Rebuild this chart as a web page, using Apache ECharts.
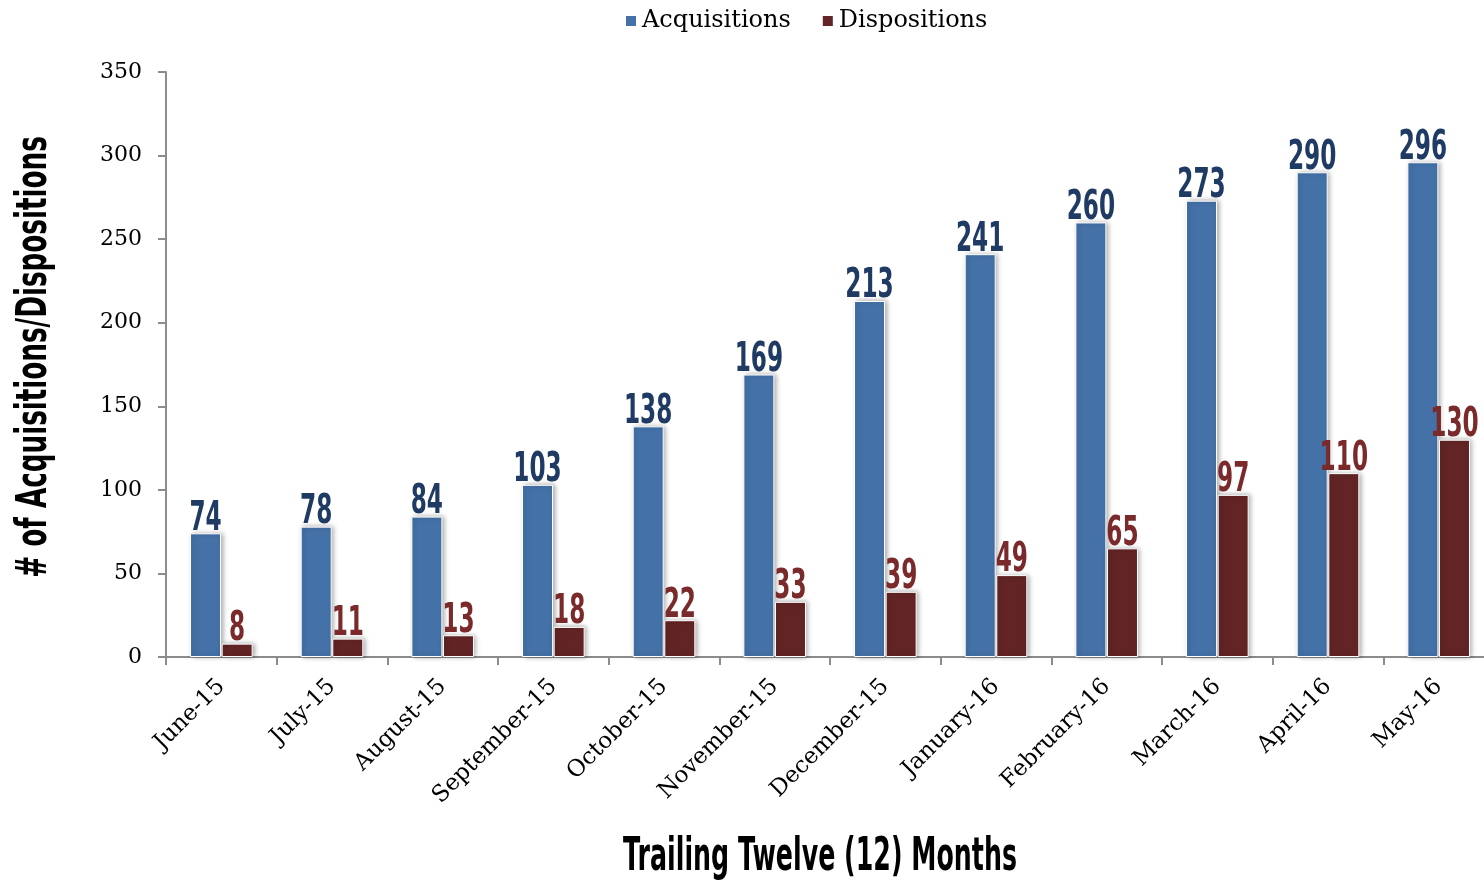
<!DOCTYPE html>
<html><head><meta charset="utf-8">
<script src="https://cdn.jsdelivr.net/npm/echarts@6/dist/echarts.min.js"></script>
<style>html,body{margin:0;padding:0;background:#fff}#c{width:1484px;height:881px}</style>
</head><body><div id="c"></div>
<script>
const categories = ['June-15','July-15','August-15','September-15','October-15','November-15','December-15','January-16','February-16','March-16','April-16','May-16'];
const acquisitions = [74,78,84,103,138,169,213,241,260,273,290,296];
const dispositions = [8,11,13,18,22,33,39,49,65,97,110,130];
const yTicks = [0,50,100,150,200,250,300,350];

const BAR_W = 31;
const BAR_GAP = 0.02;
const serif = "'DejaVu Serif','Liberation Serif',serif";

function labelSeries(values, sign, color){
  return {
    type:'custom', silent:true, clip:false, z:5,
    data: values.map((v,i)=>[i,v]),
    encode:{x:0,y:1},
    renderItem:(params, api)=>{
      const c = api.coord([api.value(0), api.value(1)]);
      const off = sign * BAR_W * (1 + BAR_GAP) / 2;
      return {type:'text', x:c[0]+off, y:c[1]+6, scaleX:0.58,
        style:{text:String(api.value(1)), fill:color, font:"bold 40px 'DejaVu Sans'",
          textAlign:'center', textVerticalAlign:'bottom', verticalAlign:'bottom'}};
    }
  };
}

const chart = echarts.init(document.getElementById('c'));
chart.setOption({
  animation:false,
  legend:{top:4,left:619,itemWidth:12,itemHeight:12,itemGap:30,icon:'rect',
    textStyle:{fontFamily:serif,fontSize:24,color:'#000'},
    data:['Acquisitions','Dispositions']},
  grid:{left:166,right:-10,top:72,bottom:224,containLabel:false,outerBoundsMode:'none'},
  graphic:[
    {type:'text', x:820, y:858, scaleX:0.55, silent:true,
      style:{text:'Trailing Twelve (12) Months', font:"bold 46px 'DejaVu Sans'", fill:'#000',
        textAlign:'center', textVerticalAlign:'middle', verticalAlign:'middle'}},
    {type:'text', x:35, y:357, rotation:Math.PI/2, scaleX:0.61, silent:true,
      style:{text:'# of Acquisitions/Dispositions', font:"bold 43px 'DejaVu Sans'", fill:'#000',
        textAlign:'center', textVerticalAlign:'middle', verticalAlign:'middle'}}
  ],
  xAxis:{type:'category',data:categories,
    axisLine:{lineStyle:{color:'#8c8c8c',width:2}},
    axisTick:{show:true,alignWithLabel:false,length:8,lineStyle:{color:'#8c8c8c',width:2}},
    axisLabel:{rotate:45,fontFamily:serif,fontSize:23,color:'#000',margin:26,interval:0}},
  yAxis:{type:'value',min:0,max:350,interval:50,
    axisLine:{show:true,lineStyle:{color:'#8c8c8c',width:2}},
    axisTick:{show:true,length:8,lineStyle:{color:'#8c8c8c',width:2}},
    splitLine:{show:false},
    axisLabel:{fontFamily:serif,fontSize:22,color:'#000',margin:24,
      formatter:v=>yTicks.includes(v)?String(v):''}},
  series:[
    {name:'Acquisitions',type:'bar',data:acquisitions,barWidth:BAR_W,barGap:(BAR_GAP*100)+'%',
      itemStyle:{color:'#4472a8',borderColor:'#fff',borderWidth:1,shadowBlur:5,shadowColor:'rgba(0,0,0,0.35)',shadowOffsetX:2}},
    {name:'Dispositions',type:'bar',data:dispositions,barWidth:BAR_W,
      itemStyle:{color:'#632425',borderColor:'#fff',borderWidth:1,shadowBlur:5,shadowColor:'rgba(0,0,0,0.35)',shadowOffsetX:2}},
    labelSeries(acquisitions,-1,'#1f3b63'),
    labelSeries(dispositions,1,'#7a2a2a')
  ]
});
</script></body></html>
